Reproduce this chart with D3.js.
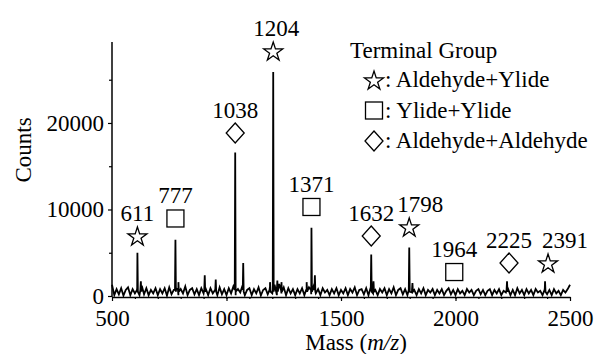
<!DOCTYPE html>
<html>
<head>
<meta charset="utf-8">
<script src="https://cdn.jsdelivr.net/npm/d3@7"></script>
<style>
  body { margin: 0; background: #fff; }
  text { font-family: "Liberation Serif", "DejaVu Serif", serif; fill: #000; }
</style>
</head>
<body>
<div id="chart"></div>
<script>
// noise floor, one value every 10 m/z from 500 to 2500
var noise = [
  1300, 100, 800, 200, 900, 50, 700, 1000, 100, 800, 300, 900, 100, 1200, 200, 900, 100, 700, 300, 900,
  100, 800, 300, 900, 50, 1000, 200, 700, 900, 100, 800, 300, 1100, 100, 700, 900, 200, 800, 100, 900,
  300, 800, 100, 900, 300, 700, 100, 1000, 200, 800, 100, 900, 300, 1100, 100, 800, 400, 1200, 100, 700,
  900, 100, 800, 300, 1000, 50, 700, 900, 200, 1100, 300, 1300, 100, 1400, 300, 1000, 100, 900, 300, 800,
  100, 800, 300, 900, 100, 700, 1000, 200, 1100, 300, 800, 100, 900, 400, 700, 100, 800, 300, 900, 100,
  700, 300, 900, 100, 800, 400, 1000, 100, 700, 800, 200, 900, 100, 1000, 300, 700, 100, 800, 400, 900,
  100, 800, 300, 1000, 100, 700, 900, 200, 800, 100, 900, 400, 700, 100, 800, 300, 900, 100, 700, 400,
  800, 100, 700, 300, 800, 100, 600, 900, 200, 700, 100, 800, 300, 600, 100, 800, 400, 700, 100, 600,
  800, 200, 700, 100, 600, 800, 100, 700, 300, 800, 100, 600, 400, 800, 100, 700, 100, 900, 300, 700,
  100, 800, 300, 700, 100, 800, 400, 600, 100, 900, 200, 700, 100, 800, 300, 600, 100, 700, 400, 800,
  1300
];

// peaks sticking out of the noise
var peakMass   = [611, 626, 777, 790, 905, 953, 1038, 1073, 1190, 1204, 1222, 1240, 1350, 1371, 1386, 1632, 1642, 1798, 1812, 2225, 2391];
var peakCounts = [5000, 1700, 6500, 1600, 2400, 1900, 16600, 3800, 1600, 25900, 1800, 1600, 1600, 7900, 2400, 4800, 1700, 5600, 1500, 1700, 1700];

// labelled peaks
var labelMass    = [611, 777, 1038, 1204, 1371, 1632, 1798, 1964, 2225, 2391];
var labelGroup   = ["star", "square", "diamond", "star", "square", "diamond", "star", "square", "diamond", "star"];
var markerCounts = [6940, 8960, 18840, 28320, 10290, 6940, 7980, 2770, 3820, 3820];

var legendTitle  = "Terminal Group";
var legendGroups = ["star", "square", "diamond"];
var legendNames  = ["Aldehyde+Ylide", "Ylide+Ylide", "Aldehyde+Aldehyde"];

var xTicks = [500, 1000, 1500, 2000, 2500];
var yTicks = [0, 10000, 20000];

var width = 604, height = 354;
var serif = "'Liberation Serif', 'DejaVu Serif', serif";

var svg = d3.select("#chart")
    .append("svg")
    .attr("width", width)
    .attr("height", height);

var x = d3.scaleLinear().domain([500, 2500]).range([112, 570]);
var y = d3.scaleLinear().domain([0, 29360]).range([296, 42]);

// merge noise and peaks into one trace
var trace = noise.map(function(c, i) { return {m: 500 + i * 10, c: c}; });
peakMass.forEach(function(m, i) {
    trace.push({m: m - 2, c: 700});
    trace.push({m: m, c: peakCounts[i]});
    trace.push({m: m + 2, c: 500});
});
trace.sort(function(a, b) { return a.m - b.m; });

var line = d3.line()
    .x(function(d) { return x(d.m); })
    .y(function(d) { return y(d.c); });

svg.append("path")
    .datum(trace)
    .attr("d", line)
    .attr("fill", "none")
    .attr("stroke", "#000")
    .attr("stroke-width", 1.8);

// axes
var xAxis = svg.append("g")
    .attr("transform", "translate(0,297)")
    .call(d3.axisBottom(x).tickValues(xTicks).tickSize(4).tickSizeOuter(0).tickPadding(9).tickFormat(d3.format("d")));
svg.append("g")
    .attr("transform", "translate(0,297)")
    .call(d3.axisBottom(x).tickValues(d3.range(600, 2500, 100)).tickSize(2).tickFormat(""))
    .select(".domain").remove();

var yAxis = svg.append("g")
    .attr("transform", "translate(112,0)")
    .call(d3.axisLeft(y).tickValues(yTicks).tickSize(4).tickSizeOuter(0).tickPadding(4).tickFormat(d3.format("d")));
svg.append("g")
    .attr("transform", "translate(112,0)")
    .call(d3.axisLeft(y).tickValues([5000, 15000, 25000]).tickSize(3).tickFormat(""))
    .select(".domain").remove();

svg.selectAll("g").attr("font-family", serif).attr("font-size", 23);
svg.selectAll(".domain").attr("stroke-width", 1.5);
svg.selectAll(".tick line").attr("stroke-width", 1.2);
svg.selectAll(".tick text").attr("fill", "#000");
// y domain must not run below the trace floor
yAxis.select(".domain").attr("d", "M0,42V297");

// axis titles
svg.append("text")
    .attr("transform", "translate(31,150) rotate(-90)")
    .attr("text-anchor", "middle")
    .style("font-size", "23px")
    .text("Counts");

var xt = svg.append("text")
    .attr("x", 356)
    .attr("y", 350)
    .attr("text-anchor", "middle")
    .style("font-size", "23px");
xt.append("tspan").text("Mass (");
xt.append("tspan").style("font-style", "italic").text("m/z");
xt.append("tspan").text(")");

// marker shapes
function drawMark(g, type, cx, cy) {
    if (type == "star") {
        g.append("path")
            .attr("d", d3.symbol(d3.symbolStar, 112)())
            .attr("transform", "translate(" + cx + "," + (cy + 1) + ")");
    } else if (type == "square") {
        g.append("rect")
            .attr("x", cx - 8.5).attr("y", cy - 8.5)
            .attr("width", 17).attr("height", 17);
    } else {
        g.append("path")
            .attr("d", "M" + cx + "," + (cy - 10) + "L" + (cx + 9) + "," + cy +
                  "L" + cx + "," + (cy + 10) + "L" + (cx - 9) + "," + cy + "Z");
    }
}

// small layout nudges as in the original figure
var markDx  = {1964: 7, 2225: 2, 2391: 3};
var labelDx = {1204: 3, 1798: 11, 2391: 17};

var ann = svg.append("g")
    .attr("fill", "none")
    .attr("stroke", "#000")
    .attr("stroke-width", 1.3);

labelMass.forEach(function(m, i) {
    var cx = x(m) + (markDx[m] || 0);
    var cy = y(markerCounts[i]);
    drawMark(ann, labelGroup[i], cx, cy);
    svg.append("text")
        .attr("x", cx + (labelDx[m] || 0))
        .attr("y", cy - 15)
        .attr("text-anchor", "middle")
        .style("font-size", "23px")
        .text(m);
});

// legend
svg.append("text")
    .attr("x", 350)
    .attr("y", 58)
    .style("font-size", "23px")
    .text(legendTitle);

var leg = svg.append("g")
    .attr("fill", "none")
    .attr("stroke", "#000")
    .attr("stroke-width", 1.3);

legendGroups.forEach(function(t, i) {
    var rowY = 87 + i * 30.5;
    drawMark(leg, t, 374, rowY - 7);
    svg.append("text")
        .attr("x", 385)
        .attr("y", rowY)
        .style("font-size", "23px")
        .text(": " + legendNames[i]);
});
</script>
</body>
</html>
